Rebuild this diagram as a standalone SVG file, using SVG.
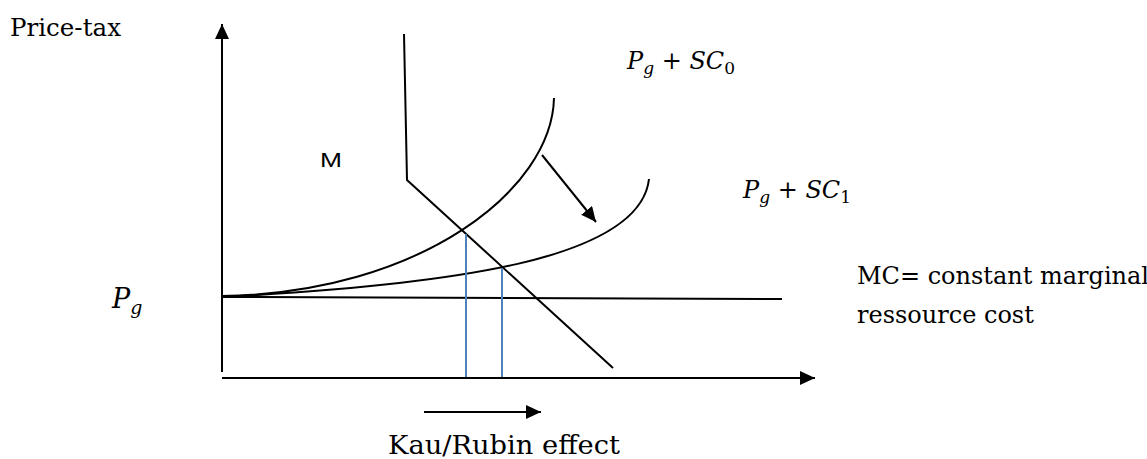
<svg xmlns="http://www.w3.org/2000/svg" width="1147" height="459" viewBox="0 0 1147 459">
  <style>
    .ln { fill: none; stroke: #000; stroke-width: 2; }
    .blue { fill: none; stroke: #4F81BD; stroke-width: 2; }
    .serif { font-family: "DejaVu Serif", "Liberation Serif", serif; font-size: 24px; fill: #000; }
    .math { font-family: "DejaVu Serif", "Liberation Serif", serif; font-size: 24px; fill: #000; }
    .it { font-style: italic; }
    .sub { font-size: 17px; }
    .sans { font-family: "Liberation Sans", Arial, sans-serif; font-size: 21px; fill: #000; }
  </style>
  <defs>
    <marker id="ah" markerWidth="16" markerHeight="14" refX="15" refY="7" orient="auto" markerUnits="userSpaceOnUse">
      <path d="M0,0 L15,7 L0,14 Z" fill="#000"/>
    </marker>
  </defs>

  <g id="axes">
    <line class="ln" x1="222" y1="372" x2="222" y2="24" marker-end="url(#ah)"/>
    <line class="ln" x1="222" y1="378" x2="815" y2="378" marker-end="url(#ah)"/>
  </g>

  <g id="demand">
    <path class="ln" d="M404,34 L407,180 L613,368"/>
  </g>

  <g id="mc-line">
    <line class="ln" x1="222" y1="297" x2="782" y2="299"/>
  </g>

  <g id="curve-sc0">
    <path class="ln" d="M222,296 C420,293 552,190 554,98"/>
  </g>

  <g id="curve-sc1">
    <path class="ln" d="M222,297 C450,285 640,260 649,179"/>
  </g>

  <g id="connectors">
    <line class="blue" x1="466" y1="234" x2="466" y2="377"/>
    <line class="blue" x1="502" y1="268" x2="502" y2="377"/>
    <line class="ln" x1="542" y1="155" x2="596" y2="222" marker-end="url(#ah)"/>
    <line class="ln" x1="424" y1="412" x2="541" y2="412" marker-end="url(#ah)"/>
  </g>

  <g id="labels">
    <text class="serif" x="10" y="36" textLength="111" lengthAdjust="spacingAndGlyphs">Price-tax</text>
    <text class="sans" x="320" y="167" style="font-size:21px" textLength="22" lengthAdjust="spacingAndGlyphs">M</text>
    <text class="math" x="112" y="308" style="font-size:27px"><tspan class="it">P</tspan><tspan class="it" style="font-size:19px" dy="6">g</tspan></text>
    <text class="math" x="627" y="69"><tspan class="it">P</tspan><tspan class="it sub" dy="5">g</tspan><tspan dy="-5"> + </tspan><tspan class="it">SC</tspan><tspan class="sub" dy="5">0</tspan></text>
    <text class="math" x="743" y="198"><tspan class="it">P</tspan><tspan class="it sub" dy="5">g</tspan><tspan dy="-5"> + </tspan><tspan class="it">SC</tspan><tspan class="sub" dy="5">1</tspan></text>
    <text class="serif" x="857" y="284">MC= constant marginal</text>
    <text class="serif" x="857" y="323">ressource cost</text>
    <text class="serif" x="388" y="454" style="font-size:26px" textLength="232" lengthAdjust="spacingAndGlyphs">Kau/Rubin effect</text>
  </g>
</svg>
